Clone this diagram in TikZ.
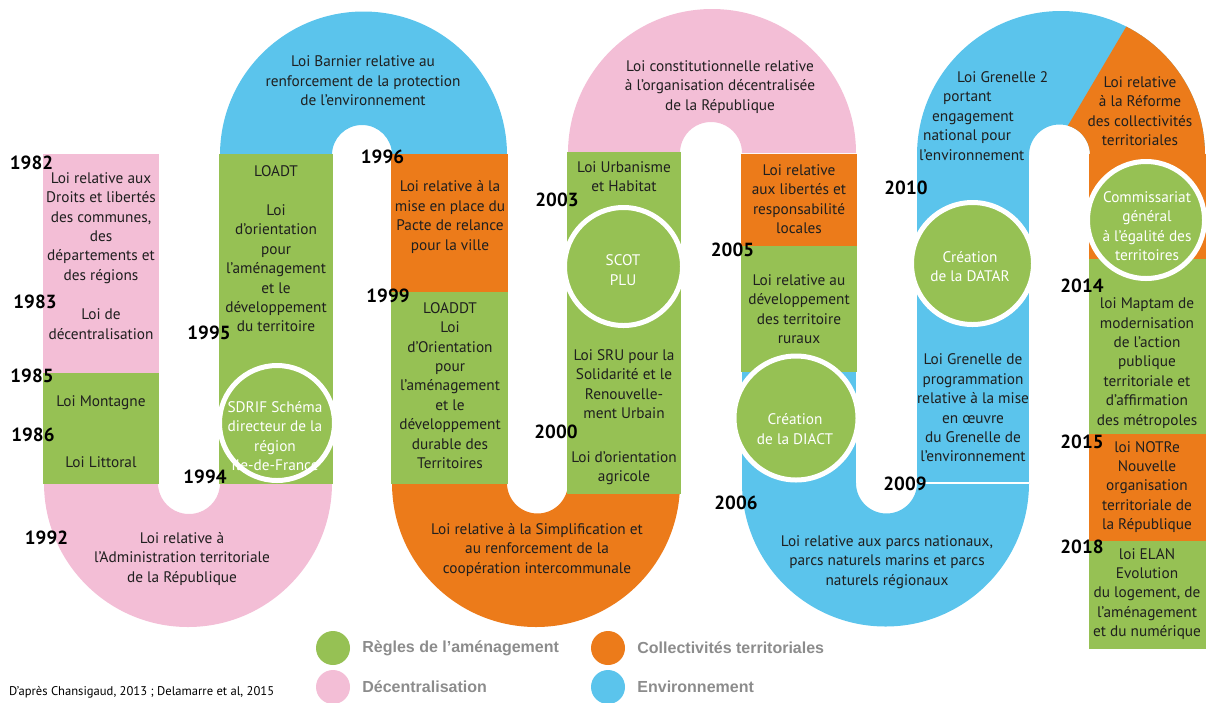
\documentclass[tikz,border=0pt]{standalone}
\usepackage{fontspec}
\setmainfont{PT Sans}
\newfontfamily\legfont{Liberation Sans}
\usetikzlibrary{positioning}
\definecolor{cAme}{RGB}{150,193,84}
\definecolor{cDec}{RGB}{243,190,214}
\definecolor{cCol}{RGB}{236,123,26}
\definecolor{cEnv}{RGB}{91,196,236}
\definecolor{cLeg}{RGB}{140,140,140}
\newcommand\lawfont{\fontsize{15.3}{19.4}\selectfont}
\newcommand\yearfont{\fontsize{19}{19}\selectfont\bfseries}

\begin{document}
\begin{tikzpicture}[x=1pt,y=-1pt,
   law/.style={align=center,font=\lawfont,text=black!88,inner sep=0pt},
   intxt/.style={align=center,font=\lawfont,text=white,inner sep=0pt},
   yr/.style={font=\yearfont,inner sep=0pt},
   seg/.style={draw=white,line width=1.3pt},
   disk/.style={circle,fill=cAme,draw=white,line width=5pt,inner sep=0pt},
   dot/.style={circle,minimum size=34pt,inner sep=0pt},
   leg/.style={anchor=west,font=\legfont\bfseries\fontsize{16}{16}\selectfont,text=cLeg,inner sep=0pt}]
\useasboundingbox (0,0) rectangle (1209,702);
%% ---- arcs of the ribbon ----
\fill[cDec] (44,483) arc[start angle=180,end angle=0,radius=144] -- (220,483)
   arc[start angle=0,end angle=180,radius=31] -- cycle;
\fill[cEnv] (220,155) arc[start angle=180,end angle=360,radius=143.5] -- (392,155)
   arc[start angle=0,end angle=-180,radius=30] -- cycle;
\fill[cCol] (392,483) arc[start angle=180,end angle=0,radius=144] -- (568,483)
   arc[start angle=0,end angle=180,radius=30.5] -- cycle;
\fill[cDec] (568,153) arc[start angle=180,end angle=360,radius=144] -- (742,153)
   arc[start angle=0,end angle=-180,radius=31] -- cycle;
\fill[cEnv] (742,483) arc[start angle=180,end angle=0,radius=143.5] -- (917,483)
   arc[start angle=0,end angle=180,radius=30.5] -- cycle;
\begin{scope}
  \clip (917,155) arc[start angle=180,end angle=360,radius=144] -- (1090,155)
     arc[start angle=0,end angle=-180,radius=30.5] -- cycle;
  \fill[cEnv] (900,0) rectangle (1220,160);
  \fill[cCol] (1139,5) -- (1050,156) -- (1220,156) -- (1220,0) -- cycle;
\end{scope}
%% ---- columns ----
\fill[seg,cDec] (44,155) rectangle (158,300);
\fill[seg,cDec] (44,300) rectangle (158,374);
\fill[seg,cAme] (44,374) rectangle (158,433);
\fill[seg,cAme] (44,433) rectangle (158,483);
\fill[seg,cAme] (220,155) rectangle (332,483);
\fill[seg,cCol] (392,155) rectangle (507,293);
\fill[seg,cAme] (392,293) rectangle (507,483);
\fill[seg,cAme] (568,153) rectangle (680,433);
\fill[seg,cAme] (568,433) rectangle (680,493);
\fill[seg,cCol] (742,155) rectangle (856,247);
\fill[seg,cAme] (742,247) rectangle (856,371);
\fill[cEnv] (742,372) rectangle (856,484);
\fill[cEnv] (917,154) rectangle (1029,484);
\draw[white,line width=1.3pt] (917,483) -- (1029,483);
\fill[seg,cCol] (1090,155) rectangle (1205,260);
\fill[seg,cAme] (1090,260) rectangle (1205,435);
\fill[seg,cCol] (1090,435) rectangle (1205,542);
\fill[seg,cAme] (1090,542) rectangle (1205,648);
%% ---- round stamps ----
\node[disk,minimum size=115pt] (c1994) at (277,423) {};
\node[disk,minimum size=118pt] (c2003) at (623.5,266.5) {};
\node[disk,minimum size=124pt] (c2006) at (796,418) {};
\node[disk,minimum size=122pt] (c2010) at (972.5,263.5) {};
\node[disk,minimum size=117pt] (c2014) at (1146,220) {};
\node[intxt] (s1994) at (275,436) {SDRIF Schéma\\directeur de la\\région\\Ile-de-France};
\node[intxt] (s2003) at (623,270) {SCOT\\PLU};
\node[intxt] (s2006) at (795,429) {Création\\de la DIACT};
\node[intxt] (s2010) at (970,266.5) {Création\\de la DATAR};
\node[intxt] (s2014) at (1147,226) {Commissariat\\général\\à l’égalité des\\territoires};
%% ---- laws ----
\node[law] (t1982) at (101,228) {Loi relative aux\\Droits et libertés\\des communes,\\des\\départements et\\des régions};
\node[law] (t1983) at (101,324) {Loi de\\décentralisation};
\node[law] (t1985) at (101,403) {Loi Montagne};
\node[law] (t1986) at (101,462) {Loi Littoral};
\node[law] (t1992) at (182,559) {Loi relative à\\l’Administration territoriale\\de la République};
\node[law] (t1995) at (276,249) {LOADT\\[19.4pt]Loi\\d’orientation\\pour\\l’aménagement\\et le\\développement\\du territoire};
\node[law] (tbarn) at (363,81) {Loi Barnier relative au\\renforcement de la protection\\de l'environnement};
\node[law] (t1996) at (450,217) {Loi relative à la\\mise en place du\\Pacte de relance\\pour la ville};
\node[law] (t1999) at (450,385.5) {LOADDT\\Loi\\d’Orientation\\pour\\l’aménagement\\et le\\développement\\durable des\\Territoires};
\node[law] (tsimp) at (537,550) {Loi relative à la Simplification et\\au renforcement de la\\coopération intercommunale};
\node[law] (t2003) at (624,176.5) {Loi Urbanisme\\et Habitat};
\node[law] (t2000) at (624,384) {Loi SRU pour la\\Solidarité et le\\Renouvelle-\\ment Urbain};
\node[law] (tagri) at (624,468) {Loi d’orientation\\agricole};
\node[law] (tcons) at (720,87) {Loi constitutionnelle relative\\à l’organisation décentralisée\\de la République};
\node[law] (t2004) at (799,199) {Loi relative\\aux libertés et\\responsabilité\\locales};
\node[law] (t2005) at (799,309) {Loi relative au\\développement\\des territoire\\ruraux};
\node[law] (t2006) at (887,562) {Loi relative aux parcs nationaux,\\parcs naturels marins et parcs\\naturels régionaux};
\node[law,anchor=west,align=left] (t2010) at (919,116) {\hspace*{38pt}Loi Grenelle 2\\\hspace*{24pt}portant\\\hspace*{13pt}engagement\\\hspace*{4pt}national pour\\l’environnement};
\node[law] (t2009) at (973,408) {Loi Grenelle de\\programmation\\relative à la mise\\en œuvre\\du Grenelle de\\l’environnement};
\node[law] (tref) at (1140,111) {Loi relative\\à la Réforme\\des collectivités\\territoriales};
\node[law] (t2014) at (1147,363) {loi Maptam de\\modernisation\\de l’action\\publique\\territoriale et\\d’affirmation\\des métropoles};
\node[law] (t2015) at (1147,487) {loi NOTRe\\Nouvelle\\organisation\\territoriale de\\la République};
\node[law] (t2018) at (1147,594) {loi ELAN\\Evolution\\du logement, de\\l'aménagement\\et du numérique};
%% ---- years ----
\node[yr] (y1982) at (31.5,163) {1982};
\node[yr] (y1983) at (35,302) {1983};
\node[yr] (y1985) at (32,376) {1985};
\node[yr] (y1986) at (33,435) {1986};
\node[yr] (y1992) at (46.5,538) {1992};
\node[yr] (y1995) at (209,333) {1995};
\node[yr] (y1994) at (205,477) {1994};
\node[yr] (y1996) at (382.5,157) {1996};
\node[yr] (y1999) at (388,296) {1999};
\node[yr] (y2003) at (557,200) {2003};
\node[yr] (y2000) at (556,432) {2000};
\node[yr] (y2005) at (732.5,250) {2005};
\node[yr] (y2006) at (736,503) {2006};
\node[yr] (y2010) at (906,188) {2010};
\node[yr] (y2009) at (905,484) {2009};
\node[yr] (y2014) at (1082,286) {2014};
\node[yr] (y2015) at (1082,442) {2015};
\node[yr] (y2018) at (1082,547) {2018};
%% ---- legend ----
\node[dot,fill=cAme] (dAme) at (333,648) {};
\node[dot,fill=cDec] (dDec) at (333,687) {};
\node[dot,fill=cCol] (dCol) at (608,648) {};
\node[dot,fill=cEnv] (dEnv) at (608,687) {};
\node[leg,right=12pt of dAme] (lAme) {Règles de l’aménagement};
\node[leg,right=12pt of dDec] (lDec) {Décentralisation};
\node[leg,right=12pt of dCol] (lCol) {Collectivités territoriales};
\node[leg,right=12pt of dEnv] (lEnv) {Environnement};
\node[anchor=west,font=\fontsize{12.6}{13}\selectfont,inner sep=0pt] (src) at (9,692) {D’après Chansigaud, 2013 ; Delamarre et al, 2015};
\end{tikzpicture}
\end{document}
